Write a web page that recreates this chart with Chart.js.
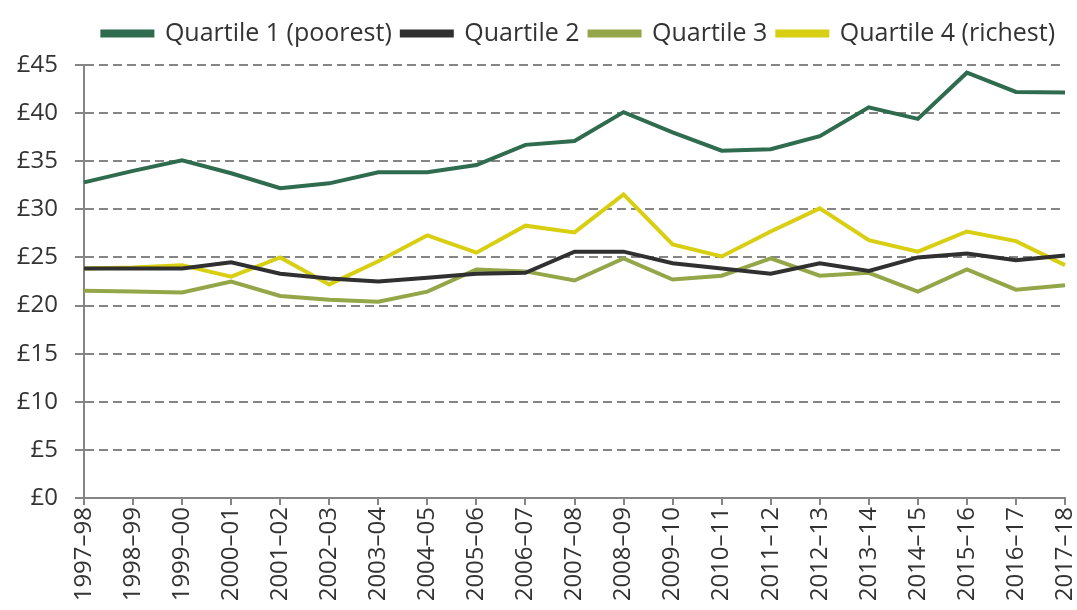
<!DOCTYPE html>
<html>
<head>
<meta charset="utf-8">
<script src="https://cdn.jsdelivr.net/npm/chart.js@4.4.1/dist/chart.umd.min.js"></script>
<style>
  html, body { margin: 0; padding: 0; background: #fff; overflow: hidden; }
  #wrap { width: 1077px; height: 610px; position: relative; }
</style>
</head>
<body>
<div id="wrap"><canvas id="c" width="1077" height="610"></canvas></div>
<script>
const categories = ["1997–98","1998–99","1999–00","2000–01","2001–02","2002–03","2003–04","2004–05","2005–06","2006–07","2007–08","2008–09","2009–10","2010–11","2011–12","2012–13","2013–14","2014–15","2015–16","2016–17","2017–18"];
const quartile1 = [32.8,34.0,35.1,33.75,32.2,32.7,33.85,33.85,34.6,36.7,37.1,40.1,38.0,36.1,36.25,37.6,40.6,39.4,44.2,42.2,42.15];
const quartile2 = [23.85,23.85,23.85,24.5,23.3,22.8,22.5,22.9,23.3,23.4,25.6,25.6,24.4,23.85,23.3,24.4,23.6,25.0,25.4,24.7,25.2];
const quartile3 = [21.55,21.45,21.35,22.5,21.0,20.6,20.4,21.45,23.75,23.55,22.6,24.9,22.7,23.1,24.9,23.1,23.4,21.45,23.75,21.65,22.1];
const quartile4 = [23.85,23.95,24.2,23.0,25.0,22.2,24.6,27.3,25.5,28.3,27.6,31.55,26.35,25.1,27.7,30.1,26.8,25.6,27.7,26.7,24.2];
const yTicks = [0,5,10,15,20,25,30,35,40,45];

const seriesNames = ["Quartile 1 (poorest)","Quartile 2","Quartile 3","Quartile 4 (richest)"];
const seriesColors = ["#2f6b4f","#303030","#93a648","#d8cf12"];
const seriesData = [quartile1, quartile2, quartile3, quartile4];

const axisGrey = "#858585";
const textColor = "#333333";

const legendSpacer = {
  id: "legendSpacer",
  beforeInit(chart) {
    const legend = chart.legend;
    if (!legend) return;
    const origFit = legend.fit;
    legend.fit = function () {
      origFit.call(this);
      this.height += 9;
    };
  }
};

new Chart(document.getElementById("c"), {
  type: "line",
  data: {
    labels: categories,
    datasets: seriesData.map((d, i) => ({
      label: seriesNames[i],
      data: d,
      borderColor: seriesColors[i],
      backgroundColor: seriesColors[i],
      borderWidth: 4,
      pointRadius: 0,
      tension: 0,
      fill: false
    }))
  },
  plugins: [legendSpacer],
  options: {
    responsive: false,
    animation: false,
    layout: { padding: { left: 0, right: 12, top: 11, bottom: 0 } },
    plugins: {
      tooltip: { enabled: false },
      legend: {
        position: "top",
        align: "end",
        fullSize: true,
        labels: {
          color: textColor,
          font: { family: "'Open Sans'", size: 25 },
          boxWidth: 50,
          boxHeight: 4,
          padding: 10
        }
      }
    },
    scales: {
      x: {
        grid: { drawOnChartArea: false, drawTicks: true, tickLength: 7, color: axisGrey, lineWidth: 2 },
        border: { color: axisGrey, width: 2 },
        ticks: {
          color: textColor,
          font: { family: "'Open Sans'", size: 24 },
          minRotation: 90,
          maxRotation: 90,
          autoSkip: false,
          padding: 2
        },
        afterFit: (s) => { s.height = 112; s.paddingRight = 0; s.paddingLeft = 0; }
      },
      y: {
        min: 0,
        max: 45,
        afterBuildTicks: (s) => { s.ticks = yTicks.map(v => ({ value: v })); },
        grid: { color: axisGrey, lineWidth: 2, tickLength: 9, tickBorderDash: [], drawTicks: true },
        border: { color: axisGrey, width: 2, dash: [9, 5] },
        ticks: {
          color: textColor,
          font: { family: "'Open Sans'", size: 24 },
          padding: 17,
          callback: (v) => "£" + v
        },
        afterFit: (s) => { s.width = 84; }
      }
    }
  }
});
</script>
</body>
</html>
